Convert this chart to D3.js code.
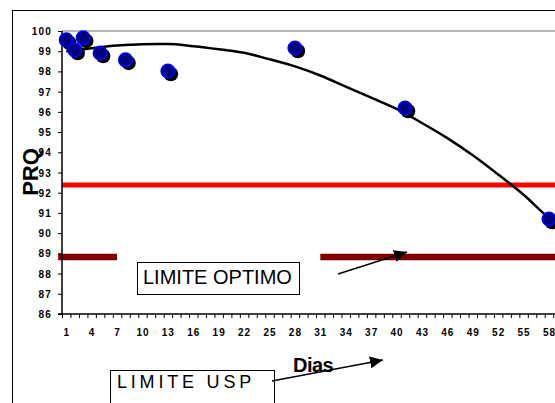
<!DOCTYPE html>
<html><head><meta charset="utf-8">
<script src="https://cdn.jsdelivr.net/npm/d3@7"></script>
<style>body{margin:0;background:#fff}svg{display:block}</style>
</head><body><svg id="c" width="555" height="403"></svg>
<script>
// ---- data ----
const days = d3.range(1, 60);
const xTickLabels = [1,4,7,10,13,16,19,22,25,28,31,34,37,40,43,46,49,52,55,58];
const yTickLabels = [86,87,88,89,90,91,92,93,94,95,96,97,98,99,100];
const obsDays   = [1, 2, 3, 5, 8, 13, 28, 41, 58];
const obsValues = [99.56, 99.06, 99.66, 98.91, 98.57, 98.02, 99.16, 96.19, 90.7];
const trendDays   = [1, 4, 7, 10, 13, 16, 19, 22, 25, 28, 31, 34, 37, 40, 43, 46, 49, 52, 55, 58, 59.3];
const trendValues = [99.0, 99.15, 99.28, 99.35, 99.36, 99.25, 99.1, 98.92, 98.6, 98.25, 97.8, 97.25, 96.7, 96.15, 95.45, 94.7, 93.85, 92.9, 91.9, 90.75, 90.35];
const optimoLimit = 92.38;
const uspLimit = 88.82;
const uspSegmentsFrom = [0.05, 31];
const uspSegmentsTo   = [7, 61];

// ---- layout ----
const svg = d3.select("#c");
const L = 62, T = 31, B = 314, R = 561.7;
const x = d3.scaleLinear().domain([0.5, 59.5]).range([L, R]);
const y = d3.scaleLinear().domain([86, 100]).range([B, T]);

// outer frame
svg.append("rect").attr("x", 12.5).attr("y", 10.5).attr("width", 700).attr("height", 600)
  .attr("fill", "none").attr("stroke", "#000").attr("stroke-width", 1);

// top gray border line (100)
svg.append("line").attr("x1", L).attr("x2", 600).attr("y1", y(100)).attr("y2", y(100))
  .attr("stroke", "#a0a0a0").attr("stroke-width", 1.5);

// red optimo limit
svg.append("line").attr("x1", L).attr("x2", 600).attr("y1", y(optimoLimit)).attr("y2", y(optimoLimit))
  .attr("stroke", "#ff0000").attr("stroke-width", 5);

// dark red USP limit
svg.selectAll("line.usp").data(uspSegmentsFrom).join("line").attr("class", "usp")
  .attr("x1", d => x(d)).attr("x2", (d, i) => x(uspSegmentsTo[i]))
  .attr("y1", y(uspLimit)).attr("y2", y(uspLimit))
  .attr("stroke", "#800000").attr("stroke-width", 6.5);

// axes
const yAxis = d3.axisLeft(y).tickValues(yTickLabels).tickSize(4).tickPadding(6).tickFormat(d3.format("d"));
const gy = svg.append("g").attr("transform", `translate(${L},0)`).call(yAxis);
gy.select(".domain").attr("stroke", "#000").attr("stroke-width", 1.5).attr("d", `M-4,${B}H0V${T}`);
gy.selectAll(".tick line").attr("stroke", "#000").attr("stroke-width", 1);
gy.selectAll("text").attr("font-family", "Liberation Sans, Arial, sans-serif")
  .attr("font-size", 10).attr("font-weight", "bold").attr("fill", "#000").attr("letter-spacing", "1.2px").attr("dy", "0.35em");

const xAxisTicks = d3.axisBottom(x).tickValues(d3.range(0.5, 60, 1)).tickSize(4).tickFormat("");
const gx = svg.append("g").attr("transform", `translate(0,${B})`).call(xAxisTicks);
gx.select(".domain").attr("stroke", "#000").attr("stroke-width", 1.5).attr("d", `M${L},0H${R}`);
gx.selectAll(".tick line").attr("stroke", "#000");

const xAxisLabels = d3.axisBottom(x).tickValues(xTickLabels).tickSize(0).tickPadding(15).tickFormat(d3.format("d"));
const gx2 = svg.append("g").attr("transform", `translate(0,${B})`).call(xAxisLabels);
gx2.select(".domain").remove();
gx2.selectAll("text").attr("font-family", "Liberation Sans, Arial, sans-serif")
  .attr("font-size", 10).attr("font-weight", "bold").attr("fill", "#000").attr("letter-spacing", "1px");

// trend line
const line = d3.line().x((d, i) => x(trendDays[i])).y(d => y(d)).curve(d3.curveMonotoneX);
svg.append("path").datum(trendValues).attr("d", line)
  .attr("fill", "none").attr("stroke", "#000").attr("stroke-width", 2.5);

// points: shadow then marker
const pts = obsDays.map((d, i) => ({d, v: obsValues[i]}));
svg.selectAll("circle.sh").data(pts).join("circle").attr("class", "sh")
  .attr("cx", p => x(p.d) + 3).attr("cy", p => y(p.v) + 3).attr("r", 7.3).attr("fill", "#000");
svg.selectAll("circle.pt").data(pts).join("circle").attr("class", "pt")
  .attr("cx", p => x(p.d)).attr("cy", p => y(p.v)).attr("r", 6.8)
  .attr("fill", "#000080").attr("stroke", "#0000ff").attr("stroke-width", 1.5);

// axis titles
svg.append("text").attr("transform", "translate(38,172) rotate(-90)").attr("text-anchor", "middle")
  .attr("font-family", "Liberation Sans, Arial, sans-serif").attr("font-size", 22).attr("font-weight", "bold")
  .text("PRQ");
svg.append("text").attr("x", 293).attr("y", 372)
  .attr("font-family", "Liberation Sans, Arial, sans-serif").attr("font-size", 20).attr("font-weight", "bold")
  .attr("letter-spacing", "-0.5px").text("Dias");

// arrow marker
const defs = svg.append("defs");
defs.append("marker").attr("id", "ah").attr("markerUnits", "userSpaceOnUse")
  .attr("markerWidth", 16).attr("markerHeight", 14).attr("refX", 13).attr("refY", 6)
  .attr("orient", "auto").attr("viewBox", "0 0 16 12")
  .append("path").attr("d", "M0,0L13,6L0,12Z").attr("fill", "#000");

// annotation: LIMITE OPTIMO
svg.append("rect").attr("x", 137.5).attr("y", 262.5).attr("width", 162).attr("height", 32)
  .attr("fill", "#fff").attr("stroke", "#000").attr("stroke-width", 1);
svg.append("text").attr("x", 143).attr("y", 284)
  .attr("font-family", "Liberation Sans, Arial, sans-serif").attr("font-size", 20).text("LIMITE OPTIMO");
svg.append("line").attr("x1", 338).attr("y1", 274).attr("x2", 407).attr("y2", 252)
  .attr("stroke", "#000").attr("stroke-width", 1.5).attr("marker-end", "url(#ah)");

// annotation: LIMITE USP
svg.append("rect").attr("x", 110.5).attr("y", 370.5).attr("width", 164).attr("height", 60)
  .attr("fill", "#fff").attr("stroke", "#000").attr("stroke-width", 1);
svg.append("text").attr("x", 117).attr("y", 388)
  .attr("font-family", "Liberation Sans, Arial, sans-serif").attr("font-size", 18)
  .attr("letter-spacing", "3.8px").text("LIMITE USP");
svg.append("line").attr("x1", 272).attr("y1", 381).attr("x2", 383).attr("y2", 360)
  .attr("stroke", "#000").attr("stroke-width", 1.5).attr("marker-end", "url(#ah)");
</script>
</body></html>
